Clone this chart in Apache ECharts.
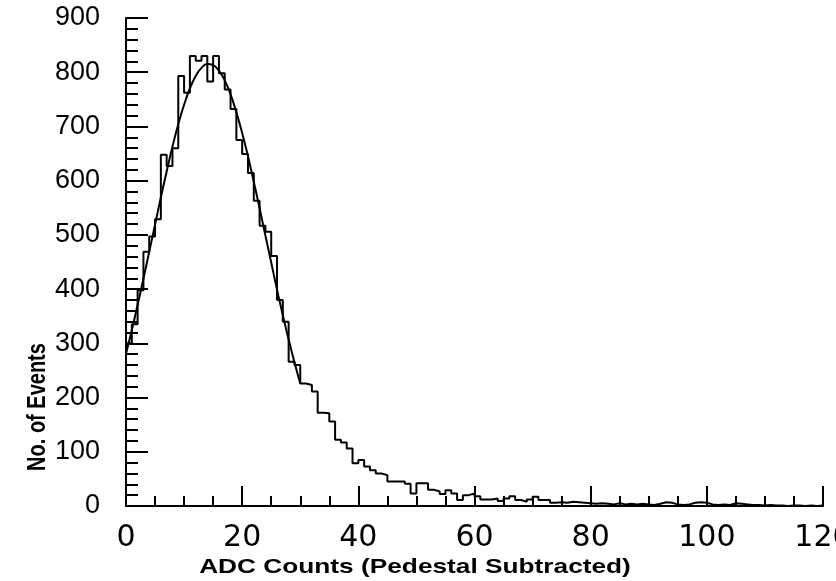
<!DOCTYPE html>
<html><head><meta charset="utf-8">
<script src="https://cdn.jsdelivr.net/npm/echarts@6/dist/echarts.min.js"></script>
<style>html,body{margin:0;padding:0;background:#fff}#c{width:836px;height:581px}</style>
</head><body><div id="c"></div>
<script>
// Histogram: counts per ADC bin (bin i spans [i, i+1])
const binEdgesStart = 0;
const counts = [
  300, 335, 398, 469, 497, 529, 648, 627, 660, 793,
  762, 830, 821, 830, 783, 830, 798, 768, 732, 675,
  649, 614, 563, 517, 506, 461, 380, 340, 266, 260,
  226, 223, 211, 172, 171, 156, 122, 117, 106, 79,
  85, 73, 66, 60, 57, 45, 45, 45, 41, 23,
  42, 42, 30, 27, 22, 29, 23, 11, 20, 23,
  18, 12, 12, 14, 9, 14, 18, 11, 8, 12,
  17, 11, 11, 6, 7, 6, 8, 7, 6, 5,
  4, 5, 4, 3, 5, 3, 4, 3, 4, 3,
  2, 4, 7, 6, 3, 2, 3, 6, 7, 6,
  3, 2, 3, 2, 5, 4, 3, 2, 2, 1,
  2, 1, 1, 0, 1, 1, 0, 1, 0, 1
];
// Fitted curve, read at integer ADC counts
const fitX = [0,1,2,3,4,5,6,7,8,9,10,11,12,13,14,15,16,17,18,19,20,21,22,23,24,25,26,27,28,29,30];
const fitY = [281,324,371,419,469,519,569,617,663,704,740,770,793,808,815,813,803,785,759,726,688,645,598,549,499,449,399,352,307,265,226];
const xTickValues = [0,20,40,60,80,100,120];
const yTickValues = [0,100,200,300,400,500,600,700,800,900];
const xTitle = 'ADC Counts (Pedestal Subtracted)';
const yTitle = 'No. of Events';

const histData = counts.map((c, i) => [binEdgesStart + i, c]);
histData.push([binEdgesStart + counts.length, counts[counts.length - 1]]);
const fitData = fitX.map((x, i) => [x, fitY[i]]);

const chart = echarts.init(document.getElementById('c'), null, {renderer: 'canvas'});
chart.setOption({
  animation: false,
  backgroundColor: '#fff',
  grid: {left: 126, right: 13, top: 18, bottom: 75, containLabel: false, outerBoundsMode: 'none'},
  xAxis: {
    type: 'value', min: xTickValues[0], max: xTickValues[xTickValues.length - 1], interval: 20,
    axisLine: {show: true, lineStyle: {color: '#000', width: 2}},
    axisTick: {show: true, inside: true, length: 20, lineStyle: {color: '#000', width: 2}},
    minorTick: {show: true, splitNumber: 4, length: 10, lineStyle: {color: '#000', width: 2}},
    splitLine: {show: false},
    axisLabel: {color: '#000', fontSize: 30, fontFamily: '"DejaVu Sans", sans-serif', margin: 17, showMaxLabel: true, hideOverlap: false}
  },
  yAxis: {
    type: 'value', min: yTickValues[0], max: yTickValues[yTickValues.length - 1], interval: 100,
    axisLine: {show: true, lineStyle: {color: '#000', width: 2}},
    axisTick: {show: true, inside: true, length: 22, lineStyle: {color: '#000', width: 2}},
    minorTick: {show: true, splitNumber: 5, length: 12, lineStyle: {color: '#000', width: 2}},
    splitLine: {show: false},
    axisLabel: {color: '#000', fontSize: 27, fontFamily: '"Liberation Sans", Arial, sans-serif', margin: 26}
  },
  series: [
    {
      type: 'line', data: histData, step: 'end', symbol: 'none',
      lineStyle: {color: '#000', width: 2}, z: 3
    },
    {
      type: 'line', data: fitData, smooth: true, symbol: 'none',
      lineStyle: {color: '#000', width: 2}, z: 4
    }
  ],
  graphic: [
    {type: 'text', x: 415, y: 567, scaleX: 1.25, style: {text: xTitle, font: 'bold 21px "Liberation Sans", Arial, sans-serif', textAlign: 'center', textVerticalAlign: 'middle', fill: '#000'}},
    {type: 'text', x: 38, y: 407, rotation: Math.PI / 2, scaleY: 1.3, style: {text: yTitle, font: 'bold 20px "Liberation Sans", Arial, sans-serif', textAlign: 'center', textVerticalAlign: 'middle', fill: '#000'}}
  ]
});
</script>
</body></html>
